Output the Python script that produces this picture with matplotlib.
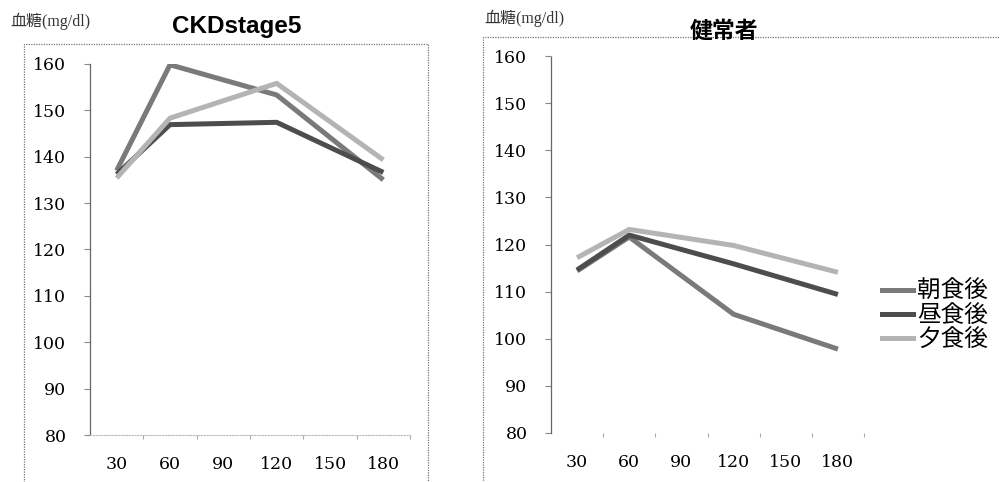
import matplotlib
matplotlib.use("Agg")
import matplotlib.pyplot as plt
from matplotlib.patches import Rectangle
from matplotlib.lines import Line2D

plt.rcParams['font.family'] = ['Noto Sans CJK JP', 'DejaVu Sans']

# Minutes after the meal (category axis) and measured time points
categories = ["30", "60", "90", "120", "150", "180"]
measured = ["30", "60", "120", "180"]
series_names = ["朝食後", "昼食後", "夕食後"]

# Blood glucose (mg/dl), CKD stage 5 patients
ckd_breakfast = [137, 159.8, 153.3, 135]
ckd_lunch = [136.2, 146.9, 147.4, 136.6]
ckd_dinner = [135.4, 148.3, 155.8, 139.3]

# Blood glucose (mg/dl), healthy subjects
healthy_breakfast = [114.4, 121.6, 105.2, 97.8]
healthy_lunch = [114.6, 122.0, 115.9, 109.4]
healthy_dinner = [117.2, 123.2, 119.8, 114.1]

y_ticks = [80, 90, 100, 110, 120, 130, 140, 150, 160]
colors = ["#7a7a7a", "#4d4d4d", "#b4b4b4"]

fig = plt.figure(figsize=(10, 4.82), dpi=100)

tick_font = dict(family="DejaVu Serif", size=12.5)
unit_family = ["Liberation Serif", "Noto Sans CJK JP", "DejaVu Sans"]
pos = [categories.index(c) for c in measured]


def draw_panel(ax, data, xaxis_line):
    for vals, col in zip(data, colors):
        ax.plot(pos, vals, color=col, lw=3.6, solid_joinstyle="round",
                solid_capstyle="butt")
    ax.set_xlim(-0.5, len(categories) - 0.5)
    ax.set_ylim(80, 160)
    ax.set_yticks(y_ticks)
    ax.set_yticklabels([str(v) for v in y_ticks], fontdict=tick_font)
    ax.set_xticks(range(len(categories)))
    ax.set_xticklabels(categories, fontdict=tick_font)
    ax.set_xticks([i + 0.5 for i in range(len(categories))], minor=True)
    ax.tick_params(axis="x", which="major", length=0, pad=15)
    ax.tick_params(axis="x", which="minor", length=3, color="#aaaaaa", width=0.8)
    ax.tick_params(axis="y", length=4, color="#888888", width=0.8, pad=13)
    for s in ["top", "right"]:
        ax.spines[s].set_visible(False)
    ax.spines["left"].set_linestyle((0, (1, 1)))
    ax.spines["left"].set_color("#666666")
    ax.spines["left"].set_linewidth(0.9)
    if xaxis_line:
        ax.spines["bottom"].set_linestyle((0, (1, 1.5)))
        ax.spines["bottom"].set_color("#bbbbbb")
        ax.spines["bottom"].set_linewidth(0.8)
    else:
        ax.spines["bottom"].set_visible(False)


ax1 = fig.add_axes([0.090, 0.0975, 0.320, 0.770])
draw_panel(ax1, [ckd_breakfast, ckd_lunch, ckd_dinner], True)

ax2 = fig.add_axes([0.551, 0.1017, 0.313, 0.782])
draw_panel(ax2, [healthy_breakfast, healthy_lunch, healthy_dinner], False)

# Dotted outer frames of each chart
fig.patches.append(Rectangle((0.024, -0.05), 0.404, 0.959, transform=fig.transFigure,
                             fill=False, ls=(0, (1, 1)), lw=0.9, ec="#777777"))
fig.patches.append(Rectangle((0.483, -0.05), 0.530, 0.973, transform=fig.transFigure,
                             fill=False, ls=(0, (1, 1)), lw=0.9, ec="#777777"))

# Titles and unit labels
fig.text(0.237, 0.944, "CKDstage5", ha="center", va="center", fontsize=17.5,
         fontweight="bold", family="Liberation Sans")
fig.text(0.010, 0.956, "血糖(mg/dl)", ha="left", va="center", fontsize=11.5,
         family=unit_family, color="#333333")
fig.text(0.724, 0.934, "健常者", ha="center", va="center", fontsize=16.5,
         fontweight="bold")
fig.text(0.484, 0.962, "血糖(mg/dl)", ha="left", va="center", fontsize=11.5,
         family=unit_family, color="#333333")

# Legend for the healthy-subject panel
handles = [Line2D([], [], color=c, lw=3.6) for c in colors]
fig.legend(handles, series_names, loc="center left", bbox_to_anchor=(0.882, 0.345),
           frameon=False, fontsize=17, handlelength=1.3, handletextpad=0.2,
           labelspacing=0.05, borderaxespad=0, borderpad=0)

fig.savefig("out.png", dpi=100)
